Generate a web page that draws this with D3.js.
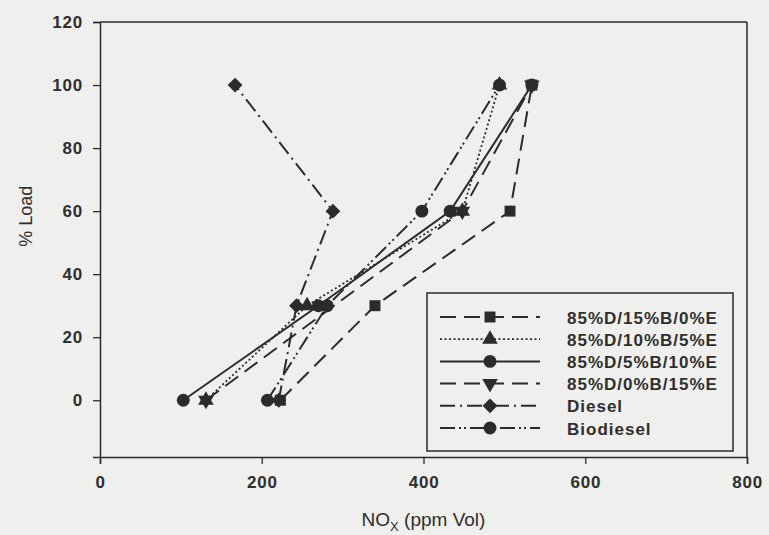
<!DOCTYPE html>
<html>
<head>
<meta charset="utf-8">
<script src="https://cdn.jsdelivr.net/npm/d3@7"></script>
<style>
  body { margin: 0; background: #efefed; }
  svg { display: block; }
  .tick text, .lbl { font-family: "Liberation Sans", Arial, sans-serif; fill: #2e2e2e; }
  .tick text { font-weight: bold; letter-spacing: 0.8px; }
</style>
</head>
<body>
<div id="chart"></div>
<script>
// data
let loads = [0, 30, 60, 100];
let seriesNames = ["85%D/15%B/0%E", "85%D/10%B/5%E", "85%D/5%B/10%E", "85%D/0%B/15%E", "Diesel", "Biodiesel"];
let noxD85B15E0 = [223, 340, 507, 534];
let noxD85B10E5 = [131, 256, 448, 494];
let noxD85B5E10 = [103, 270, 433, 534];
let noxD85B0E15 = [131, null, 448, 534];
let noxDiesel = [221, 243, 288, 167];
let noxBiodiesel = [207, 281, 398, 494];
let xTicks = [0, 200, 400, 600, 800];
let yTicks = [0, 20, 40, 60, 80, 100, 120];

let svgWidth = 769;
let svgHeight = 535;
let margin = { top: 22, right: 22, bottom: 78, left: 100 };
let width = svgWidth - margin.left - margin.right;
let height = svgHeight - margin.top - margin.bottom;

let ink = "#2b2b2b";

let svg = d3.select("#chart").append("svg")
  .attr("width", svgWidth).attr("height", svgHeight);
let g = svg.append("g").attr("transform", `translate(${margin.left},${margin.top})`);

let x = d3.scaleLinear().domain([0, 800]).range([0, width]);
let y = d3.scaleLinear().domain([-18, 120]).range([height, 0]);

// series styles
let styles = [
  { dash: "16,8", sw: 2, symbol: d3.symbolSquare, size: 120, rot: 0 },
  { dash: "2,2.5", sw: 1.8, symbol: d3.symbolTriangle, size: 105, rot: 0 },
  { dash: null, sw: 2, symbol: d3.symbolCircle, size: 130, rot: 0 },
  { dash: "16,8", sw: 2, symbol: d3.symbolTriangle, size: 105, rot: 180 },
  { dash: "15,5,2,5", sw: 2, symbol: d3.symbolSquare, size: 110, rot: 45 },
  { dash: "15,4,2,3,2,4", sw: 2, symbol: d3.symbolCircle, size: 130, rot: 0 },
];
let allSeries = [noxD85B15E0, noxD85B10E5, noxD85B5E10, noxD85B0E15, noxDiesel, noxBiodiesel];
let series = allSeries.map((vals, i) => ({
  name: seriesNames[i],
  style: styles[i],
  points: loads.map((l, j) => ({ load: l, nox: vals[j] })).filter(p => p.nox != null),
}));

// frame
g.append("line").attr("x1", 0).attr("x2", width).attr("y1", 0).attr("y2", 0)
  .attr("stroke", ink).attr("stroke-width", 1.5);
g.append("line").attr("x1", width).attr("x2", width).attr("y1", 0).attr("y2", height)
  .attr("stroke", ink).attr("stroke-width", 1.5);

// axes
let xAxis = g.append("g").attr("transform", `translate(0,${height})`)
  .call(d3.axisBottom(x).tickValues(xTicks).tickSize(7).tickPadding(12));
let yAxis = g.append("g")
  .call(d3.axisLeft(y).tickValues(yTicks).tickSize(7).tickPadding(10));
[xAxis, yAxis].forEach(a => {
  a.select(".domain").attr("stroke", ink).attr("stroke-width", 1.5);
  a.selectAll(".tick line").attr("stroke", ink).attr("stroke-width", 1.3);
  a.selectAll(".tick text").style("font-size", "17px");
});

// axis titles
svg.append("text").attr("class", "lbl")
  .attr("transform", `translate(32,${y(40) + margin.top - 58}) rotate(-90)`)
  .attr("text-anchor", "middle").style("font-size", "18px")
  .text("% Load");
let xt = svg.append("text").attr("class", "lbl")
  .attr("x", margin.left + x(400)).attr("y", 526)
  .attr("text-anchor", "middle").style("font-size", "19px");
xt.append("tspan").text("NO");
xt.append("tspan").attr("dy", 5).style("font-size", "13px").text("X");
xt.append("tspan").attr("dy", -5).text(" (ppm Vol)");

// lines
let line = d3.line().x(d => x(d.nox)).y(d => y(d.load));
g.selectAll(".series").data(series).enter().append("path")
  .attr("d", d => line(d.points))
  .attr("fill", "none").attr("stroke", ink).attr("stroke-width", d => d.style.sw)
  .attr("stroke-dasharray", d => d.style.dash);

// markers
series.forEach(s => {
  g.selectAll(null).data(s.points).enter().append("path")
    .attr("d", d3.symbol().type(s.style.symbol).size(s.style.size))
    .attr("transform", d => `translate(${x(d.nox)},${y(d.load)}) rotate(${s.style.rot})`)
    .attr("fill", ink);
});

// legend
let lg = svg.append("g").attr("transform", "translate(427,293)");
lg.append("rect").attr("width", 306).attr("height", 158)
  .attr("fill", "none").attr("stroke", ink).attr("stroke-width", 1.5);
let rows = lg.selectAll(".row").data(series).enter().append("g")
  .attr("transform", (d, i) => `translate(0,${24 + i * 22.2})`);
rows.append("line").attr("x1", 13).attr("x2", 113).attr("y1", 0).attr("y2", 0)
  .attr("stroke", ink).attr("stroke-width", d => d.style.sw)
  .attr("stroke-dasharray", d => d.style.dash);
rows.append("path")
  .attr("d", d => d3.symbol().type(d.style.symbol).size(d.style.size)())
  .attr("transform", d => `translate(63,0) rotate(${d.style.rot})`)
  .attr("fill", ink);
rows.append("text").attr("class", "lbl").attr("x", 140).attr("y", 6.5)
  .style("font-size", "17px").style("font-weight", "bold").style("letter-spacing", "1px")
  .text(d => d.name);
</script>
</body>
</html>
